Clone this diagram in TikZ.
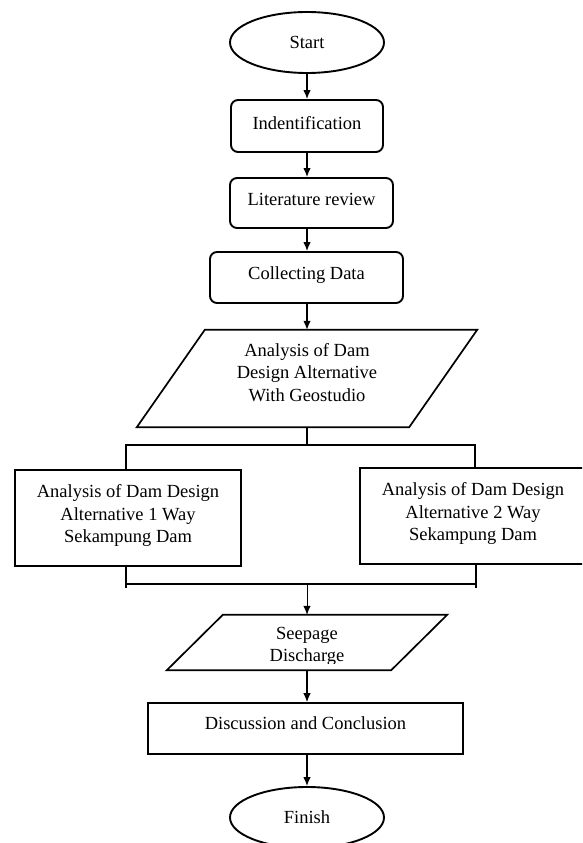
\documentclass[tikz,border=0pt]{standalone}
\usepackage{fontspec}
\setmainfont{Liberation Serif}
\usetikzlibrary{arrows.meta,shapes.geometric,calc}
\begin{document}
\begin{tikzpicture}[x=1pt,y=-1pt,
  box/.style={draw,line width=1.6pt,inner sep=0pt},
  rbox/.style={box,line width=1.9pt,rounded corners=7pt},
  term/.style={draw,ellipse,line width=1.9pt,inner sep=0pt,minimum width=154pt,minimum height=61pt,
    font=\fontsize{18.5}{22.3}\selectfont},
  ghost/.style={inner sep=0pt},
  txt/.style={font=\fontsize{18.5}{22.3}\selectfont,align=center,inner sep=0pt},
  para/.style={line width=1.7pt,line join=miter},
  arr/.style={-{Latex[length=9pt,width=7.5pt]},line width=1.3pt},
  bus/.style={line width=2.7pt}
]
\clip (0,0) rectangle (582,843);
\fill[white] (0,0) rectangle (582,843);

% terminals
\node[term] (start) at (307,42.5) {Start};
\node[term] (finish) at (307,817.5) {Finish};

% process boxes
\node[rbox,minimum width=152pt,minimum height=52pt] (ident) at (307,126) {};
\node[txt] (t-ident) at (307,123) {Indentification};
\node[rbox,minimum width=163pt,minimum height=50pt] (lit) at (311.5,203) {};
\node[txt] (t-lit) at (311.5,199) {Literature review};
\node[rbox,minimum width=193pt,minimum height=51pt] (coll) at (306.5,277.5) {};
\node[txt] (t-coll) at (306.5,275) {Collecting Data};

% parallelogram 1
\node[ghost,minimum width=272pt,minimum height=97pt] (p1) at (307,378.5) {};
\draw[para] ($(p1.north west)+(34,0)$) -- ($(p1.north east)+(34,0)$)
  -- ($(p1.south east)+(-34,0)$) -- ($(p1.south west)+(-34,0)$) -- cycle;
\node[txt] (t-p1) at (307,372.5) {Analysis of Dam\\Design Alternative\\With Geostudio};

% alternatives
\node[box,minimum width=226pt,minimum height=96pt] (L) at (128,518) {};
\node[txt] (t-L) at (128,515.5) {Analysis of Dam Design\\Alternative 1 Way\\Sekampung Dam};
\node[box,minimum width=226pt,minimum height=96pt] (R) at (473,516) {};
\node[txt] (t-R) at (473,513.5) {Analysis of Dam Design\\Alternative 2 Way\\Sekampung Dam};

% parallelogram 2
\node[ghost,minimum width=224pt,minimum height=55pt] (p2) at (307,642.5) {};
\draw[para] ($(p2.north west)+(28,0)$) -- ($(p2.north east)+(28,0)$)
  -- ($(p2.south east)+(-28,0)$) -- ($(p2.south west)+(-28,0)$) -- cycle;
\begin{scope}
  \clip (150,615) rectangle (460,663.5);
  \node[txt] (t-p2) at (307,646.5) {Seepage\\Discharge};
\end{scope}

% discussion
\node[box,minimum width=315pt,minimum height=51pt] (disc) at (305.5,728.5) {};
\node[txt] (t-disc) at (305.5,723) {Discussion and Conclusion};

% arrows
\draw[arr] (start.south) -- (ident.north);
\draw[arr] (ident.south) -- (ident.south |- lit.north);
\draw[arr] (ident.south |- lit.south) -- (ident.south |- coll.north);
\draw[arr] (p1.north |- coll.south) -- (p1.north);

% split
\coordinate (splitL) at (126,445);
\coordinate (splitR) at (475,445);
\draw[bus] (p1.south) -- (p1.south |- splitL);
\draw[bus,line join=miter] (L.north -| splitL) -- (splitL) -- (splitR) -- (R.north -| splitR);

% merge
\coordinate (mergeL) at (126,584);
\coordinate (mergeR) at (476,584);
\coordinate (mergeM) at (307,584);
\draw[bus] (L.south -| mergeL) -- ++(0,21.5);
\draw[bus] (R.south -| mergeR) -- ++(0,23.5);
\draw[bus] (mergeL) -- (mergeR);
\draw[arr,line width=1pt] (mergeM) -- (mergeM |- p2.north);

\draw[arr] (p2.south) -- (p2.south |- disc.north);
\draw[arr] (finish.north |- disc.south) -- (finish.north);
\end{tikzpicture}
\end{document}
